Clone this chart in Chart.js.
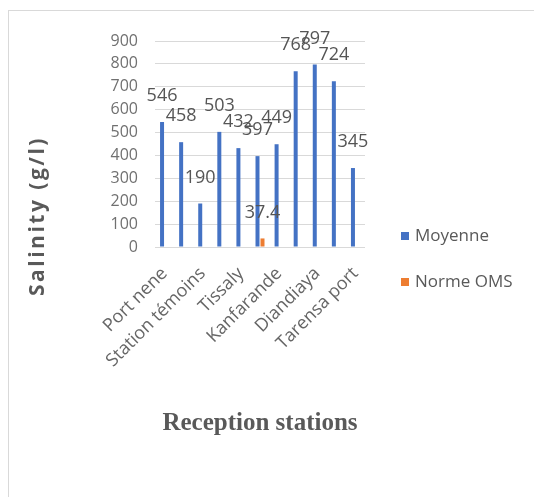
<!DOCTYPE html>
<html>
<head>
<meta charset="utf-8">
<title>Salinity by reception station</title>
<script src="https://cdn.jsdelivr.net/npm/chart.js@4.4.1/dist/chart.umd.min.js"></script>
<style>
  html, body { margin: 0; padding: 0; background: #ffffff; overflow: hidden; }
  #wrap { position: relative; width: 534px; height: 497px; }
  #frame { position: absolute; left: 8px; top: 10px; width: 600px; height: 600px;
           border: 1px solid #d9d9d9; box-sizing: border-box; }
  #c { position: absolute; left: 0; top: 0; }
</style>
</head>
<body>
<div id="wrap">
  <div id="frame"></div>
  <canvas id="c" width="534" height="497"></canvas>
</div>
<script>
// Station names along the x axis (only every other station is labelled)
const stations = ['Port nene', '', 'Station témoins', '', 'Tissaly', '', 'Kanfarande', '', 'Diandiaya', '', 'Tarensa port'];

// Mean salinity per station (g/l)
const moyenne = [546, 458, 190, 503, 432, 397, 449, 768, 797, 724, 345];

// WHO standard, shown once
const normeOMS = [null, null, null, null, null, 37.4, null, null, null, null, null];

// Value axis ticks
const yMin = 0;
const yMax = 900;
const yStep = 100;

const seriesNames = ['Moyenne', 'Norme OMS'];
const seriesColors = ['#4472C4', '#ED7D31'];

const textGray = '#595959';

// Value written above each bar
const valueLabels = {
  id: 'valueLabels',
  afterDatasetsDraw(chart) {
    const ctx = chart.ctx;
    ctx.save();
    ctx.font = '18px "Open Sans"';
    ctx.fillStyle = '#555555';
    ctx.textAlign = 'center';
    ctx.textBaseline = 'middle';
    chart.data.datasets.forEach((ds, di) => {
      const meta = chart.getDatasetMeta(di);
      meta.data.forEach((bar, i) => {
        const v = ds.data[i];
        if (v === null || v === undefined) return;
        ctx.fillText(String(v), bar.x, bar.y - 26);
      });
    });
    ctx.restore();
  }
};

// Vertical axis title and the legend on the right
const sideTexts = {
  id: 'sideTexts',
  afterDraw(chart) {
    const ctx = chart.ctx;
    const area = chart.chartArea;
    ctx.save();
    // axis title
    ctx.translate(area.left - 117, area.bottom - 31);
    ctx.rotate(-Math.PI / 2);
    ctx.font = 'bold 21px "Open Sans"';
    if ('letterSpacing' in ctx) ctx.letterSpacing = '2.5px';
    ctx.fillStyle = textGray;
    ctx.textAlign = 'center';
    ctx.textBaseline = 'middle';
    ctx.fillText('Salinity (g/l)', 0, 0);
    ctx.restore();

    // legend
    ctx.save();
    ctx.font = '17px "Open Sans"';
    ctx.textAlign = 'left';
    ctx.textBaseline = 'middle';
    chart.data.datasets.forEach((ds, i) => {
      const x = area.right + 36;
      const y = area.bottom - 11 + i * 46;
      ctx.fillStyle = ds.backgroundColor;
      ctx.fillRect(x, y - 4, 8, 8);
      ctx.fillStyle = textGray;
      ctx.fillText(ds.label, x + 14, y);
    });
    ctx.restore();
  }
};

new Chart(document.getElementById('c'), {
  type: 'bar',
  data: {
    labels: stations,
    datasets: [
      { label: seriesNames[0], data: moyenne, backgroundColor: seriesColors[0],
        categoryPercentage: 0.524, barPercentage: 0.8 },
      { label: seriesNames[1], data: normeOMS, backgroundColor: seriesColors[1],
        categoryPercentage: 0.524, barPercentage: 0.8 }
    ]
  },
  options: {
    responsive: false,
    animation: false,
    devicePixelRatio: 1,
    layout: { padding: { left: 0, right: 169, top: 41, bottom: 0 } },
    plugins: {
      legend: { display: false },
      tooltip: { enabled: false }
    },
    scales: {
      x: {
        grid: { display: false, drawTicks: false },
        border: { display: false },
        ticks: {
          autoSkip: false,
          minRotation: 45,
          maxRotation: 45,
          padding: 16,
          color: '#666666',
          font: { family: 'Open Sans', size: 18 }
        },
        title: {
          display: true,
          text: 'Reception stations',
          color: textGray,
          font: { family: 'Liberation Serif', size: 25, weight: 'bold' },
          padding: { top: 0, bottom: 58 }
        },
        afterFit(scale) { scale.height = 250; }
      },
      y: {
        min: yMin,
        max: yMax,
        grid: { color: '#d9d9d9', drawTicks: false },
        border: { display: false },
        ticks: {
          stepSize: yStep,
          autoSkip: false,
          padding: 17,
          color: '#707070',
          font: { family: 'Open Sans', size: 16 }
        },
        afterFit(scale) { scale.width = 155; }
      }
    }
  },
  plugins: [valueLabels, sideTexts]
});
</script>
</body>
</html>
